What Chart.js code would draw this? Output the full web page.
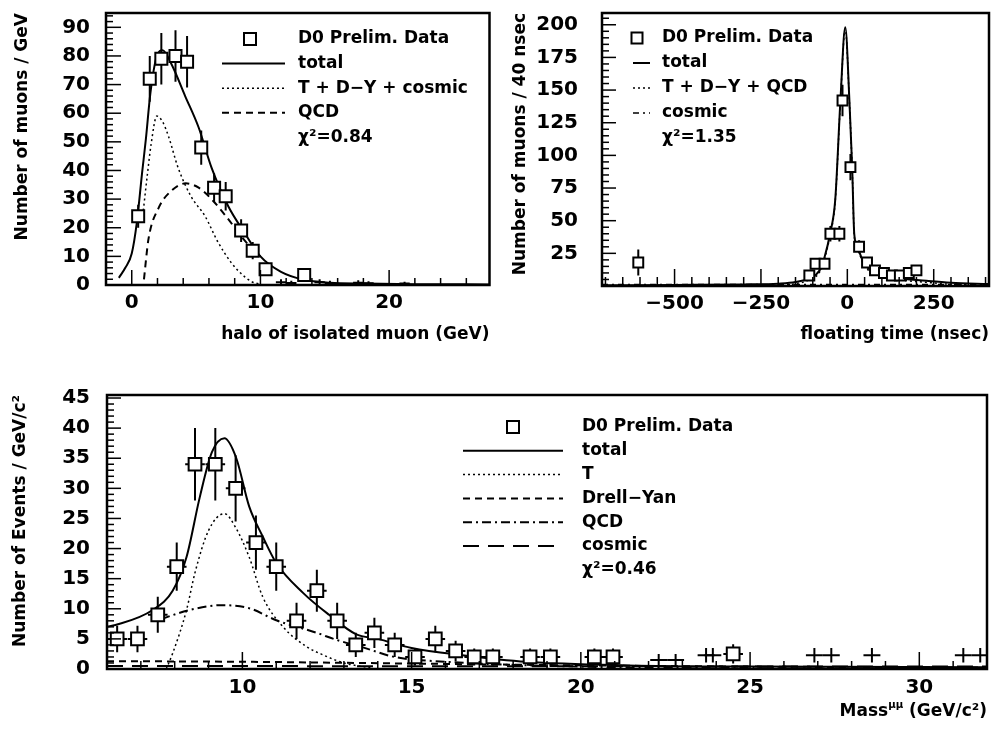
<!DOCTYPE html>
<html>
<head>
<meta charset="utf-8">
<script src="https://cdn.jsdelivr.net/npm/chart.js@4.4.1/dist/chart.umd.min.js"></script>
<style>
body { margin:0; background:#fff; width:998px; height:732px; position:relative; overflow:hidden; }
canvas { position:absolute; }
</style>
</head>
<body>
<canvas id="halo" width="500" height="350" style="left:0;top:0"></canvas>
<canvas id="time" width="498" height="350" style="left:500px;top:0"></canvas>
<canvas id="mass" width="998" height="352" style="left:0;top:380px"></canvas>
<script>
// ---- halo of isolated muon ----
var haloX   = [0.5, 1.4, 2.3, 3.4, 4.3, 5.4, 6.4, 7.3, 8.5, 9.4, 10.4, 13.4];
var haloY   = [24, 72, 79, 80, 78, 48, 34, 31, 19, 12, 5.5, 3.5];
var haloErr = [4, 8, 9, 9, 9, 6, 5, 5, 4, 3, 2, 1.5];
var haloLowX   = [11.6, 12.4, 14.6, 15.4, 17.6, 18.4, 21.2];
var haloLowY   = [1, 0.7, 1, 0.7, 0.8, 0.6, 0.5];
var haloLowErr = [1, 0.8, 1, 0.8, 0.9, 0.7, 0.6];
var haloFitX  = [-1, -0.5, 0, 0.4, 0.8, 1.1, 1.45, 1.95, 2.4, 3.1, 4.15, 5.2, 6.2, 7.5, 8.8, 10, 11.6, 13.4, 15.4, 18, 22, 27.8];
var haloTotal = [2.5, 6, 11, 22, 39, 51, 67, 80, 82, 77, 66, 55, 41, 27.5, 18, 10, 4.6, 1.8, 0.8, 0.5, 0.3, 0.2];
var haloSigX  = [0.9, 1.2, 1.5, 1.95, 2.4, 2.85, 3.6, 4.6, 5.7, 6.7, 7.7, 8.5, 9.3, 10];
var haloSig   = [26, 38, 49, 59, 57, 52, 41, 31, 24, 15, 8, 4, 1.2, 0.3];
var haloQcdX  = [0.95, 1.3, 2.1, 3.1, 4.2, 5.2, 6.2, 7.5, 8.5, 9.4, 10];
var haloQcd   = [2, 16, 27, 33, 35.5, 34, 30, 23, 17, 12.5, 10];
var haloXTicks = [0, 10, 20];
var haloYTicks = [0, 10, 20, 30, 40, 50, 60, 70, 80, 90];

// ---- floating time ----
var timeX   = [-605, -110, -92, -66, -49, -23, -14, 9, 34, 57, 80, 106, 129, 152, 178, 200];
var timeY   = [18, 8, 17, 17, 40, 40, 142, 91, 30, 18, 12, 10, 8, 8, 10, 12];
var timeErr = [10, 3, 4, 4, 6, 6, 12, 10, 5, 4, 3.5, 3, 3, 3, 3, 3.5];
var timeFitX   = [-710, -500, -300, -200, -150, -110, -80, -66, -50, -35, -20, -6, 6, 14, 20, 29, 49, 86, 134, 229, 300, 410];
var timeTotal  = [0.5, 0.8, 1.2, 1.8, 3, 6, 12, 22, 40, 66, 142, 198, 142, 91, 40, 30, 17, 10, 6.5, 4, 2.5, 1.5];
var timeSig    = [0, 0, 0.1, 0.6, 1.8, 4.8, 10.8, 20.8, 38.8, 64.8, 140.8, 196.8, 140.8, 89.8, 38.8, 28.8, 15.8, 8.8, 5.3, 2.8, 1.3, 0.3];
var timeCosX   = [-710, 410];
var timeCos    = [1.2, 1.2];
var timeXTicks = [-500, -250, 0, 250];
var timeYTicks = [25, 50, 75, 100, 125, 150, 175, 200];

// ---- dimuon mass ----
var massX   = [6.3, 6.9, 7.5, 8.06, 8.6, 9.2, 9.8, 10.4, 11.0, 11.6, 12.2, 12.8, 13.35, 13.9, 14.5, 15.1, 15.7, 16.3, 16.85, 17.4, 18.5, 19.1, 20.4, 20.95, 24.5];
var massY   = [5, 5, 9, 17, 34, 34, 30, 21, 17, 8, 13, 8, 4, 6, 4, 2, 5, 3, 2, 2, 2, 2, 2, 2, 2.5];
var massErr = [2.2, 2.2, 3, 4, 6, 6, 5.5, 4.5, 4, 3, 3.5, 3, 2, 2.5, 2, 1.4, 2.2, 1.7, 1.4, 1.4, 1.4, 1.4, 1.4, 1.4, 1.6];
var massLowX   = [22.3, 22.8, 23.7, 23.9, 26.9, 27.4, 28.6, 31.3, 31.8];
var massLowY   = [1.5, 1.5, 2.3, 2.3, 2.3, 2.3, 2.3, 2.3, 2.3];
var massLowErr = [1, 1, 1.2, 1.2, 1.2, 1.2, 1.2, 1.2, 1.2];
var massFitX  = [6, 6.25, 7.35, 7.94, 8.35, 8.74, 9.1, 9.47, 9.82, 10.2, 10.6, 11, 11.8, 12.56, 13.35, 14, 15, 16.5, 18.4, 21.4, 25, 32];
var massTotal = [7, 7.3, 9.8, 13, 18.6, 28.5, 36, 38.3, 35, 27, 22, 17.6, 12.6, 9, 5.8, 5, 3.5, 2.3, 1.2, 0.6, 0.4, 0.3];
var massTX  = [7.75, 7.94, 8.35, 8.6, 9.0, 9.47, 9.8, 10.2, 10.6, 11.2, 11.9, 12.4, 13, 13.8];
var massT   = [0, 2.6, 9.8, 16, 23, 25.8, 23.5, 18.6, 12, 7, 3.7, 2.3, 1, 0.2];
var massDYX = [6, 10, 15, 20, 25, 32];
var massDY  = [1.3, 1.2, 0.9, 0.6, 0.4, 0.25];
var massQX  = [7.6, 8.44, 9.4, 10.2, 11, 12.2, 12.8, 13.5, 14.5, 16, 20, 25, 32];
var massQ   = [8.3, 9.8, 10.6, 10.1, 8.1, 6, 4.8, 3.7, 2, 1.2, 0.4, 0.15, 0.05];
var massCosX = [6, 32];
var massCos  = [0.5, 0.4];
var massXTicks = [10, 15, 20, 25, 30];
var massYTicks = [0, 5, 10, 15, 20, 25, 30, 35, 40, 45];

Chart.defaults.font.family = "'DejaVu Sans', sans-serif";
Chart.defaults.font.weight = 'bold';
Chart.defaults.color = '#000';
Chart.defaults.animation = false;

function pts(xs, ys) {
  return xs.map(function(x, i){ return {x: x, y: ys[i]}; });
}

// paw-like frame, inward ticks, error bars, in-plot legend
var pawPlugin = {
  id: 'paw',
  beforeDatasetsDraw: function(chart) {
    var ctx = chart.ctx, xs = chart.scales.x, ys = chart.scales.y, a = chart.chartArea;
    ctx.save();
    ctx.beginPath();
    ctx.rect(a.left, a.top, a.right - a.left, a.bottom - a.top);
    ctx.clip();
    ctx.strokeStyle = '#000';
    ctx.lineWidth = 2;
    chart.data.datasets.forEach(function(ds){
      if (!ds.errors) return;
      ds.data.forEach(function(p, i){
        var px = xs.getPixelForValue(p.x), py = ys.getPixelForValue(p.y);
        ctx.beginPath();
        ctx.moveTo(px, ys.getPixelForValue(Math.max(0, p.y - ds.errors[i])));
        ctx.lineTo(px, ys.getPixelForValue(p.y + ds.errors[i]));
        ctx.moveTo(xs.getPixelForValue(p.x - ds.halfBin), py);
        ctx.lineTo(xs.getPixelForValue(p.x + ds.halfBin), py);
        ctx.stroke();
      });
    });
    ctx.restore();
  },
  afterDraw: function(chart, args, o) {
    var ctx = chart.ctx, a = chart.chartArea;
    ctx.save();
    ctx.strokeStyle = '#000';
    ctx.fillStyle = '#000';
    ctx.lineWidth = 1.5;
    ['x', 'y'].forEach(function(k){
      var s = chart.scales[k], t = o[k];
      for (var v = t.start; v <= s.max + 1e-9; v += t.minor) {
        var r = v / t.major;
        var len = Math.abs(r - Math.round(r)) < 1e-6 ? t.majorLen : t.minorLen;
        var p = s.getPixelForValue(v);
        ctx.beginPath();
        if (k === 'x') { ctx.moveTo(p, a.bottom); ctx.lineTo(p, a.bottom - len); }
        else { ctx.moveTo(a.left, p); ctx.lineTo(a.left + len, p); }
        ctx.stroke();
      }
    });
    ctx.lineWidth = 2.5;
    ctx.strokeRect(a.left, a.top, a.right - a.left, a.bottom - a.top);

    var L = o.legend;
    ctx.font = 'bold ' + L.size + "px 'DejaVu Sans'";
    ctx.textBaseline = 'middle';
    ctx.textAlign = 'left';
    L.items.forEach(function(it, i){
      var y = L.y + i * L.row;
      ctx.fillText(it.text, L.textX, y);
      if (it.square) {
        ctx.lineWidth = 2;
        ctx.strokeRect(L.sqX - L.sq / 2, y - L.sq / 2, L.sq, L.sq);
      } else if (it.ds !== undefined) {
        var ds = chart.data.datasets[it.ds];
        ctx.lineWidth = ds.borderWidth;
        ctx.setLineDash(ds.borderDash || []);
        ctx.beginPath();
        ctx.moveTo(L.x0, y);
        ctx.lineTo(L.x1, y);
        ctx.stroke();
        ctx.setLineDash([]);
      }
    });

    if (o.xTitle) {
      var T = o.xTitle, x = a.right;
      ctx.textAlign = 'right';
      for (var j = T.parts.length - 1; j >= 0; j--) {
        var part = T.parts[j];
        ctx.font = 'bold ' + (part.sup ? T.size * 0.6 : T.size) + "px 'DejaVu Sans'";
        ctx.fillText(part.t, x, T.y - (part.sup ? T.size * 0.4 : 0));
        x -= ctx.measureText(part.t).width;
      }
    }
    ctx.restore();
  }
};

function dataSet(label, xs, ys, errs, halfBin, radius) {
  return {
    label: label, data: pts(xs, ys), errors: errs, halfBin: halfBin,
    showLine: false, pointStyle: 'rect', pointRadius: radius,
    pointBorderWidth: 2, borderColor: '#000', backgroundColor: '#fff', order: 0
  };
}
function lowSet(xs, ys, errs, halfBin) {
  return { label: 'low', data: pts(xs, ys), errors: errs, halfBin: halfBin, showLine: false, pointRadius: 0, order: 2 };
}
function curve(label, xs, ys, dash, width) {
  return {
    label: label, data: pts(xs, ys), showLine: true, pointRadius: 0,
    borderColor: '#000', borderWidth: width, borderDash: dash,
    cubicInterpolationMode: 'monotone', order: 1
  };
}
function xAxis(min, max, ticks, title, height, pad, titlePad) {
  return {
    type: 'linear', min: min, max: max,
    grid: { display: false, drawTicks: false }, border: { display: false },
    afterBuildTicks: function(s){ s.ticks = ticks.map(function(v){ return {value: v}; }); },
    afterFit: function(s){ s.height = height; s.paddingLeft = 0; s.paddingRight = 0; },
    ticks: { font: { size: 20 }, padding: pad, maxRotation: 0,
      callback: function(v){ return v < 0 ? '\u2212' + Math.abs(v) : '' + v; } },
    title: { display: !!title, text: title, align: 'end', font: { size: 17 }, padding: { top: 0, bottom: titlePad } }
  };
}
function yAxis(min, max, ticks, title, width, pad, titlePad) {
  return {
    type: 'linear', min: min, max: max,
    grid: { display: false, drawTicks: false }, border: { display: false },
    afterBuildTicks: function(s){ s.ticks = ticks.map(function(v){ return {value: v}; }); },
    afterFit: function(s){ s.width = width; s.paddingTop = 0; s.paddingBottom = 0; },
    ticks: { font: { size: 20 }, padding: pad },
    title: { display: true, text: title, align: 'end', font: { size: 17 }, padding: { top: titlePad, bottom: 0 } }
  };
}

new Chart(document.getElementById('halo'), {
  type: 'scatter',
  data: { datasets: [
    dataSet('D0 Prelim. Data', haloX, haloY, haloErr, 0.45, 8.5),
    lowSet(haloLowX, haloLowY, haloLowErr, 0.4),
    curve('total', haloFitX, haloTotal, [], 2),
    curve('T + D\u2212Y + cosmic', haloSigX, haloSig, [2, 3], 1.5),
    curve('QCD', haloQcdX, haloQcd, [7, 5], 2)
  ]},
  options: {
    responsive: false,
    layout: { padding: { left: 0, top: 13, right: 7, bottom: 0 } },
    scales: {
      x: xAxis(-2, 27.8, haloXTicks, 'halo of isolated muon (GeV)', 65, 6, 5),
      y: yAxis(0, 95, haloYTicks, 'Number of muons / GeV', 106, 16, 12)
    },
    plugins: {
      legend: { display: false }, tooltip: { enabled: false },
      paw: {
        x: { start: -2, minor: 2, major: 10, majorLen: 15, minorLen: 7 },
        y: { start: 0, minor: 2, major: 10, majorLen: 15, minorLen: 7 },
        legend: { size: 17, y: 39, row: 24.6, textX: 298, x0: 222, x1: 285, sqX: 250, sq: 12, items: [
          { square: true, text: 'D0 Prelim. Data' },
          { ds: 2, text: 'total' },
          { ds: 3, text: 'T + D\u2212Y + cosmic' },
          { ds: 4, text: 'QCD' },
          { text: '\u03C7\u00B2=0.84' }
        ]}
      }
    }
  },
  plugins: [pawPlugin]
});

new Chart(document.getElementById('time'), {
  type: 'scatter',
  data: { datasets: [
    dataSet('D0 Prelim. Data', timeX, timeY, timeErr, 11, 7),
    curve('total', timeFitX, timeTotal, [], 2),
    curve('T + D\u2212Y + QCD', timeFitX, timeSig, [2, 3], 1.5),
    curve('cosmic', timeCosX, timeCos, [6, 4, 2, 4], 1.5)
  ]},
  options: {
    responsive: false,
    layout: { padding: { left: 0, top: 13, right: 5, bottom: 0 } },
    scales: {
      x: xAxis(-710, 410, timeXTicks, 'floating time (nsec)', 64, 6, 5),
      y: yAxis(0, 209, timeYTicks, 'Number of muons / 40 nsec', 102, 24, 10)
    },
    plugins: {
      legend: { display: false }, tooltip: { enabled: false },
      paw: {
        x: { start: -700, minor: 50, major: 250, majorLen: 17, minorLen: 9 },
        y: { start: 0, minor: 5, major: 25, majorLen: 14, minorLen: 7 },
        legend: { size: 17, y: 38, row: 25, textX: 162, x0: 133, x1: 150, sqX: 137, sq: 11, items: [
          { square: true, text: 'D0 Prelim. Data' },
          { ds: 1, text: 'total' },
          { ds: 2, text: 'T + D\u2212Y + QCD' },
          { ds: 3, text: 'cosmic' },
          { text: '\u03C7\u00B2=1.35' }
        ]}
      }
    }
  },
  plugins: [pawPlugin]
});

new Chart(document.getElementById('mass'), {
  type: 'scatter',
  data: { datasets: [
    dataSet('D0 Prelim. Data', massX, massY, massErr, 0.29, 9),
    lowSet(massLowX, massLowY, massLowErr, 0.25),
    curve('total', massFitX, massTotal, [], 2),
    curve('T', massTX, massT, [2, 3], 1.5),
    curve('Drell\u2212Yan', massDYX, massDY, [7, 5], 2),
    curve('QCD', massQX, massQ, [9, 4, 2, 4], 2),
    curve('cosmic', massCosX, massCos, [16, 9], 2)
  ]},
  options: {
    responsive: false,
    layout: { padding: { left: 0, top: 15, right: 4, bottom: 0 } },
    scales: {
      x: xAxis(6, 32, massXTicks, '', 63, 7, 0),
      y: yAxis(0, 45.5, massYTicks, 'Number of Events / GeV/c\u00B2', 107, 17, 10)
    },
    plugins: {
      legend: { display: false }, tooltip: { enabled: false },
      paw: {
        x: { start: 6, minor: 1, major: 5, majorLen: 17, minorLen: 8 },
        y: { start: 0, minor: 1, major: 5, majorLen: 14, minorLen: 7 },
        legend: { size: 17, y: 47, row: 23.8, textX: 582, x0: 463, x1: 563, sqX: 513, sq: 12, items: [
          { square: true, text: 'D0 Prelim. Data' },
          { ds: 2, text: 'total' },
          { ds: 3, text: 'T' },
          { ds: 4, text: 'Drell\u2212Yan' },
          { ds: 5, text: 'QCD' },
          { ds: 6, text: 'cosmic' },
          { text: '\u03C7\u00B2=0.46' }
        ]},
        xTitle: { size: 17, y: 332, parts: [ { t: 'Mass' }, { t: '\u03BC\u03BC', sup: true }, { t: ' (GeV/c\u00B2)' } ] }
      }
    }
  },
  plugins: [pawPlugin]
});
</script>
</body>
</html>
